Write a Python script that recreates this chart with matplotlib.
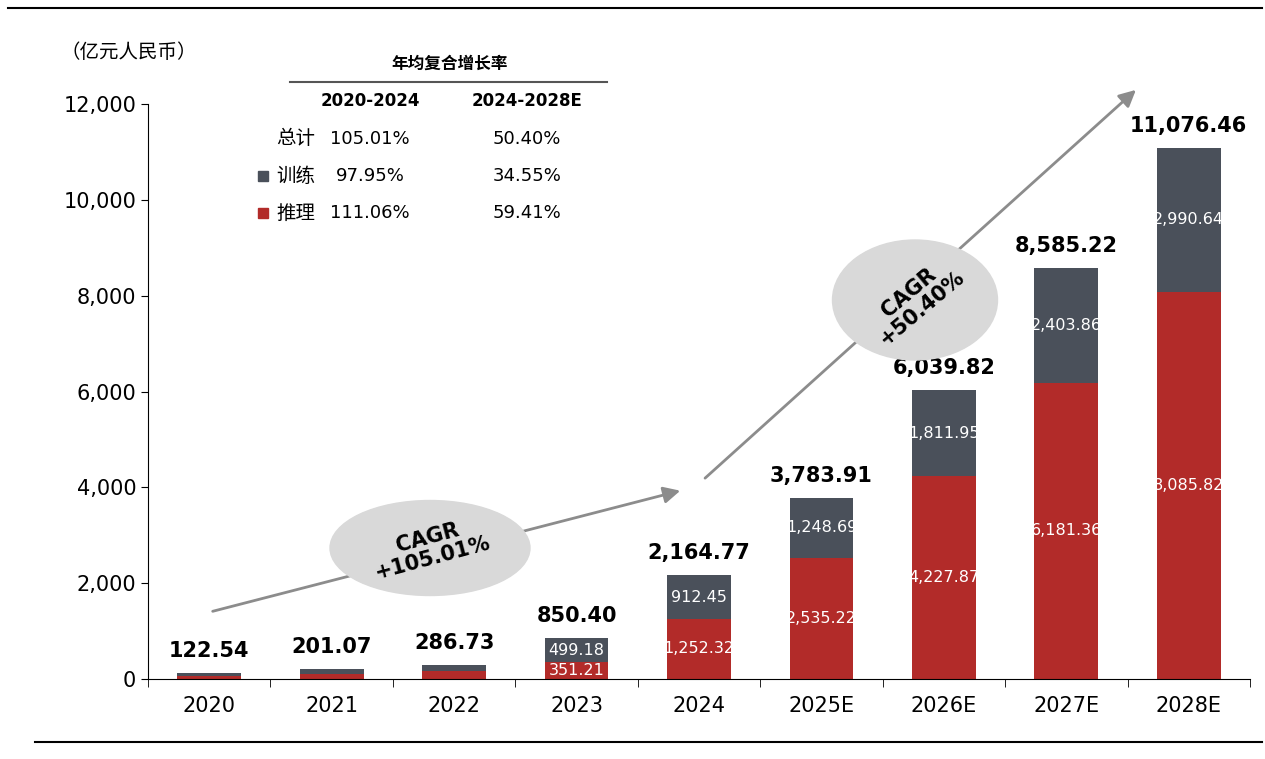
import matplotlib
matplotlib.use("Agg")
import matplotlib.pyplot as plt
from matplotlib.patches import Ellipse, Rectangle

plt.rcParams['font.family'] = ['Noto Sans CJK SC', 'DejaVu Sans']

years = ["2020", "2021", "2022", "2023", "2024", "2025E", "2026E", "2027E", "2028E"]
inference = [63.1, 110.0, 165.0, 351.21, 1252.32, 2535.22, 4227.87, 6181.36, 8085.82]
training = [59.44, 91.07, 121.73, 499.18, 912.45, 1248.69, 1811.95, 2403.86, 2990.64]
totals = [122.54, 201.07, 286.73, 850.40, 2164.77, 3783.91, 6039.82, 8585.22, 11076.46]
red = "#B22B29"
grey = "#4A505A"

W, H = 1265, 759
fig = plt.figure(figsize=(W/100, H/100), dpi=100)
ax = fig.add_axes([148/W, 1-679/H, 1102/W, 575/H])
x = list(range(len(years)))
ax.bar(x, inference, width=0.52, color=red)
ax.bar(x, training, width=0.52, bottom=inference, color=grey)
ax.set_xlim(-0.5, 8.5)
ax.set_ylim(0, 12000)
ax.set_yticks(range(0, 12001, 2000))
ax.set_yticklabels([f"{v:,}" for v in range(0, 12001, 2000)], fontsize=15, family='DejaVu Sans')
ax.set_xticks(x)
ax.set_xticklabels(years, fontsize=15, family='DejaVu Sans')
ax.tick_params(axis='x', length=0, pad=12)
ax.set_xticks([i + 0.5 for i in range(-1, 9)], minor=True)
ax.tick_params(axis='x', which='minor', length=6, direction='out')
ax.tick_params(axis='y', length=5, direction='out')
for s in ['top', 'right']:
    ax.spines[s].set_visible(False)

for i in x:
    ax.text(i, totals[i] + 250, f"{totals[i]:,.2f}", ha='center', va='bottom',
            fontsize=15, fontweight='bold', family='DejaVu Sans')
    if i >= 3:
        ax.text(i, inference[i] / 2 if i > 3 else inference[i] / 2, f"{inference[i]:,.2f}",
                ha='center', va='center', color='white', fontsize=11.5, family='DejaVu Sans')
        ax.text(i, inference[i] + training[i] / 2, f"{training[i]:,.2f}",
                ha='center', va='center', color='white', fontsize=11.5, family='DejaVu Sans')

# pixel helper for annotations
def px(xp, yp):
    return (xp / W, 1 - yp / H)

fig.add_artist(Ellipse(px(430, 548), 200/W, 95/H, angle=0, transform=fig.transFigure,
                       color="#D9D9D9", zorder=3))
fig.text(*px(430, 548), "CAGR\n+105.01%", ha='center', va='center', rotation=15,
         fontsize=15, fontweight='bold', family='DejaVu Sans', linespacing=1.0, zorder=4)
e2 = Ellipse(px(915, 300), 165/W, 120/H, angle=0, transform=fig.transFigure,
             color="#D9D9D9", zorder=3)
fig.add_artist(e2)
fig.text(*px(915, 300), "CAGR\n+50.40%", ha='center', va='center', rotation=40,
         fontsize=15, fontweight='bold', family='DejaVu Sans', linespacing=1.0, zorder=4)

for (a, b) in [((210, 612), (683, 490)), ((703, 480), (1138, 88))]:
    fig.add_artist(matplotlib.patches.FancyArrowPatch(px(*a), px(*b), transform=fig.transFigure,
                   arrowstyle='-|>,head_length=10,head_width=5', color="#8C8C8C", lw=2, zorder=2))

fig.text(*px(60, 53), "（亿元人民币）", ha='left', va='center', fontsize=14)
fig.text(*px(450, 64), "年均复合增长率", ha='center', va='center', fontsize=12, fontweight='bold')
fig.add_artist(plt.Line2D([290/W, 607/W], [1-82/H, 1-82/H], color="#555555", lw=1.5))
fig.text(*px(370, 101), "2020-2024", ha='center', va='center', fontsize=12, fontweight='bold', family='DejaVu Sans')
fig.text(*px(527, 101), "2024-2028E", ha='center', va='center', fontsize=12, fontweight='bold', family='DejaVu Sans')
rows = [("总计", "105.01%", "50.40%", None), ("训练", "97.95%", "34.55%", grey), ("推理", "111.06%", "59.41%", red)]
for k, (lab, a, b, c) in enumerate(rows):
    yp = 139 + k * 37
    fig.text(*px(276, yp), lab, ha='left', va='center', fontsize=14)
    fig.text(*px(370, yp), a, ha='center', va='center', fontsize=13, family='DejaVu Sans')
    fig.text(*px(527, yp), b, ha='center', va='center', fontsize=13, family='DejaVu Sans')
    if c:
        fig.add_artist(Rectangle(px(258, yp + 5), 10/W, 10/H, transform=fig.transFigure, color=c))

fig.add_artist(plt.Line2D([8/W, 1262/W], [1-8/H, 1-8/H], color="black", lw=1.5))
fig.add_artist(plt.Line2D([35/W, 1262/W], [1-742/H, 1-742/H], color="black", lw=1.5))
fig.savefig("out.png", dpi=100)
